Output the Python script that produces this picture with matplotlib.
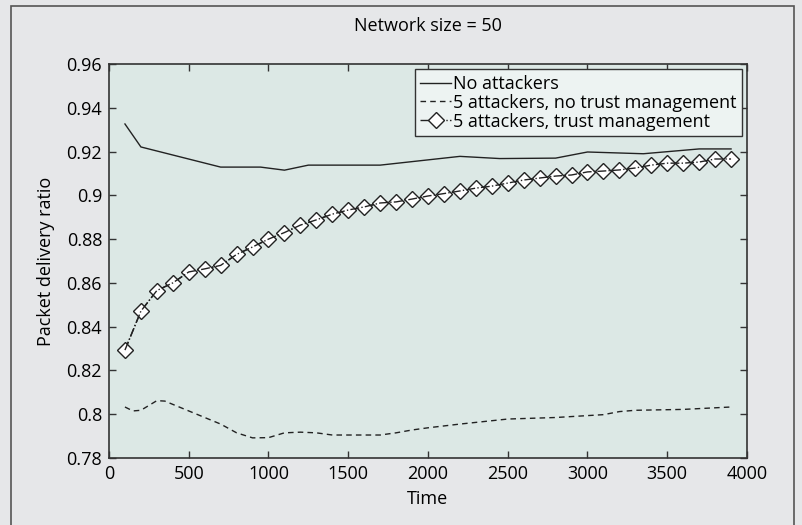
import matplotlib
matplotlib.use("Agg")
import matplotlib.pyplot as plt
from matplotlib.patches import Rectangle

plt.rcParams['font.family'] = ['Open Sans', 'DejaVu Sans']

# no attackers
t_none = [100, 200, 700, 950, 1100, 1250, 1700, 2200, 2450, 2800, 3000, 3350, 3700, 3900]
pdr_none = [0.9326, 0.9221, 0.9129, 0.9129, 0.9115, 0.9138, 0.9138, 0.9178, 0.9168,
            0.9170, 0.9198, 0.9190, 0.9212, 0.9212]

# 5 attackers, no trust management
t_notrust = [100, 150, 200, 300, 350, 400, 500, 600, 700, 800, 900, 1000, 1100, 1200,
             1300, 1400, 1500, 1600, 1700, 1800, 1900, 2000, 2200, 2500, 2800, 3100,
             3200, 3300, 3600, 3900]
pdr_notrust = [0.8033, 0.8015, 0.8018, 0.8062, 0.8060, 0.8045, 0.8015, 0.7985, 0.7955,
               0.7915, 0.7892, 0.7893, 0.7915, 0.7918, 0.7915, 0.7905, 0.7905, 0.7905,
               0.7905, 0.7915, 0.7928, 0.7938, 0.7955, 0.7978, 0.7985, 0.7998, 0.8012,
               0.8018, 0.8022, 0.8033]

# 5 attackers, trust management
t_trust = list(range(100, 4000, 100))
pdr_trust = [0.8293, 0.8471, 0.8565, 0.8600, 0.8650, 0.8664, 0.8680, 0.8730, 0.8764,
             0.8800, 0.8830, 0.8864, 0.8888, 0.8914, 0.8933, 0.8947, 0.8965, 0.8970,
             0.8983, 0.8997, 0.9008, 0.9020, 0.9033, 0.9042, 0.9056, 0.9070, 0.9079,
             0.9088, 0.9093, 0.9107, 0.9111, 0.9116, 0.9125, 0.9138, 0.9147, 0.9147,
             0.9152, 0.9166, 0.9166]

fs = 13

fig = plt.figure(figsize=(8.03, 5.25), dpi=100, facecolor='#e6e7e9')
ax = fig.add_axes([109/803, 1 - 458/525, (747-109)/803, (458-64)/525])
ax.set_facecolor('#dce8e5')

# outer frame
fig.patches.append(Rectangle((11/803, -0.05), (794-11)/803, 1 - 6/525 + 0.05,
                             transform=fig.transFigure, fill=False,
                             edgecolor='#555555', linewidth=1.2))

ax.plot(t_none, pdr_none, color='#222222', linewidth=1.0, label='No attackers')
ax.plot(t_notrust, pdr_notrust, color='#222222', linewidth=1.0,
        linestyle=(0, (4, 3)), label='5 attackers, no trust management')
ax.plot(t_trust, pdr_trust, color='#222222', linewidth=1.0, linestyle='-.',
        marker='D', markersize=8, markerfacecolor='white', markeredgecolor='#222222',
        markeredgewidth=1.0, label='5 attackers, trust management', zorder=2)
ax.plot(t_trust, pdr_trust, color='#222222', linewidth=1.0, linestyle='-.', zorder=3)

ax.set_xlim(0, 4000)
ax.set_ylim(0.78, 0.96)
ax.set_xticks(range(0, 4001, 500))
yt = [0.78, 0.80, 0.82, 0.84, 0.86, 0.88, 0.90, 0.92, 0.94, 0.96]
ax.set_yticks(yt)
ax.set_yticklabels(['0.78', '0.8', '0.82', '0.84', '0.86', '0.88', '0.9', '0.92', '0.94', '0.96'])
ax.tick_params(direction='in', top=True, right=True, length=5, width=1.0,
               labelsize=fs, color='#333333', pad=5)
for s in ax.spines.values():
    s.set_color('#333333')
    s.set_linewidth(1.2)

ax.set_title('Network size = 50', fontsize=fs, pad=24)
ax.set_xlabel('Time', fontsize=fs, labelpad=5)
ax.set_ylabel('Packet delivery ratio', fontsize=fs, labelpad=8)

leg = ax.legend(loc='upper right', fontsize=fs, handlelength=1.7, handletextpad=0.1,
                borderpad=0.3, labelspacing=0.05, borderaxespad=0.3,
                fancybox=False, framealpha=1, facecolor='#edf3f2', edgecolor='#333333')
leg.get_frame().set_linewidth(1.0)

fig.savefig('out.png', dpi=100, facecolor=fig.get_facecolor())
